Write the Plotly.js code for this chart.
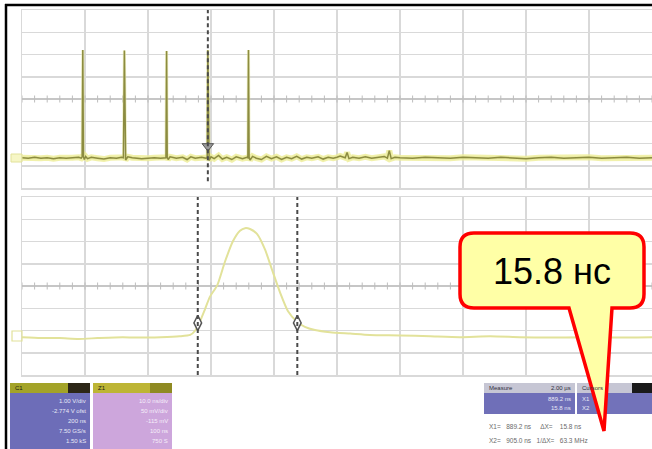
<!DOCTYPE html>
<html>
<head>
<meta charset="utf-8">
<script src="https://cdn.plot.ly/plotly-3.0.1.min.js"></script>
<style>
  html, body { margin: 0; padding: 0; background: #ffffff; }
  #scope { width: 652px; height: 449px; }
</style>
</head>
<body>
<div id="scope"></div>
<script>
// ---- Channel 1, full record (time in ns, 100 ns/div; amplitude in V, 0.5 V/div)
const ch1Time = [0, 10, 20, 30, 40, 50, 60, 70, 80, 90, 94, 95.5, 96.5, 97.5, 99, 101, 104, 110, 120, 130,
  140, 150, 158, 161, 162.5, 163.5, 164.5, 168, 175, 190, 200, 210, 220, 227, 228.5, 229.5, 230.5, 232, 235, 245,
  255, 262, 268, 275, 285, 292, 294, 295, 296, 297, 300, 305, 312, 318, 325, 333, 340, 350, 357, 358.5,
  359.5, 360.5, 362, 366, 372, 380, 388, 396, 404, 412, 420, 428, 436, 444, 452, 460, 470, 478, 486, 494,
  500, 505, 513, 516, 519, 525, 535, 545, 555, 565, 575, 580, 583, 586, 592, 600, 620, 640, 660, 680,
  700, 720, 740, 760, 780, 800, 820, 840, 860, 880, 900, 920, 940, 960, 980, 1000];
const ch1Volts = [-1.32, -1.33, -1.31, -1.33, -1.32, -1.34, -1.32, -1.33, -1.32, -1.31, -1.33, -1.30, 1.10, -1.30, -1.36, -1.29, -1.34, -1.31, -1.33, -1.35,
  -1.32, -1.33, -1.31, -1.32, 1.09, -1.31, -1.37, -1.30, -1.32, -1.34, -1.33, -1.32, -1.33, -1.31, -1.32, 1.08, -1.31, -1.36, -1.30, -1.33,
  -1.31, -1.36, -1.30, -1.33, -1.31, -1.33, -1.32, 1.10, -1.31, -1.38, -1.30, -1.34, -1.27, -1.35, -1.31, -1.36, -1.30, -1.34, -1.31, -1.32,
  1.10, -1.31, -1.37, -1.29, -1.33, -1.36, -1.29, -1.34, -1.30, -1.36, -1.31, -1.34, -1.29, -1.35, -1.31, -1.33, -1.30, -1.35, -1.31, -1.33,
  -1.31, -1.28, -1.32, -1.20, -1.34, -1.31, -1.33, -1.30, -1.33, -1.31, -1.29, -1.33, -1.16, -1.34, -1.31, -1.32, -1.33, -1.31, -1.32, -1.33,
  -1.31, -1.32, -1.33, -1.31, -1.32, -1.34, -1.32, -1.31, -1.33, -1.32, -1.31, -1.33, -1.32, -1.31, -1.33, -1.32];

// ---- Zoom of the captured pulse (time in ns, 10 ns/div; amplitude in mV, 50 mV/div)
const zoomTime = [0, 3, 6, 9, 12, 16, 19, 22, 25, 26.7, 27.5, 28.3, 29.0, 29.8, 31.0, 32.2, 33.5, 34.6, 35.4, 36.2,
  37.3, 38.6, 39.7, 41.0, 42.2, 43.7, 44.9, 46.5, 48.9, 52.1, 55.2, 60, 64.8, 69.5, 74.3, 79, 83.8, 88.6, 93.3, 100];
const zoomMilliVolts = [-115, -117, -117, -119, -117, -115, -116, -115, -113, -110, -100, -78, -54, -25, 2, 54, 101, 124, 130, 128,
  117, 81, 36, -16, -56, -81, -92, -99, -104, -107, -110, -111, -113, -115, -113, -115, -116, -115, -116, -115];

// ---- Cursors and trigger
const triggerTime = 295;          // ns, channel 1 record
const triggerLevel = -1.06;       // V
const cursorTimes = [27.9, 43.7]; // ns, zoom trace
const cursorLevel = -83;          // mV
const pulseWidth = (cursorTimes[1] - cursorTimes[0]).toFixed(1);

// ---- Readout tables
const ch1Header = ['C1', ''];
const ch1Lines = ['1.00 V/div', '-2.774 V ofst', '200 ns', '7.50 GS/s', '1.50 kS'];
const zoomHeader = ['Z1', ''];
const zoomLines = ['10.0 ns/div', '50 mV/div', '-115 mV', '100 ns', '750 S'];
const measureHeader = ['Measure', '2.00 µs'];
const measureLines = ['889.2 ns', '15.8 ns'];
const cursorHeader = ['Cursors', ''];
const cursorLines = ['X1', 'X2'];
const readoutRows = ['X1=   889.2 ns     ΔX=    ' + pulseWidth + ' ns',
                     'X2=   905.0 ns   1/ΔX=   63.3 MHz'];

// ---- Page geometry helpers (pixel -> paper)
const W = 652, H = 449, ML = 22, MR = 0, MT = 10, MB = 74;
const PW = W - ML - MR, PH = H - MT - MB;
const px = x => (x - ML) / PW;
const py = y => (H - MB - y) / PH;
const P = (x, y) => px(x).toFixed(5) + ',' + py(y).toFixed(5);

const gridCol = '#d9d9d9';

function scopeX(range, dtick, anchor) {
  return { domain: [0, 1], range: range, dtick: dtick, tick0: 0, anchor: anchor,
    showgrid: true, gridcolor: gridCol, gridwidth: 1.5, zeroline: false,
    showline: true, mirror: true, linecolor: gridCol, linewidth: 1.5,
    showticklabels: false, ticks: '', fixedrange: true };
}
function scopeY(domain, range, dtick, anchor) {
  return { domain: domain, range: range, dtick: dtick, tick0: 0, anchor: anchor,
    showgrid: true, gridcolor: gridCol, gridwidth: 1.5,
    zeroline: true, zerolinecolor: '#c6c6c6', zerolinewidth: 1.5,
    showline: true, mirror: true, linecolor: gridCol, linewidth: 1.5,
    showticklabels: false, ticks: '', fixedrange: true };
}

// minor graticule ticks along the centre lines (5 per division)
const ch1Minor = [], zoomMinor = [];
for (let k = 0; k <= 50; k++) { ch1Minor.push(k * 20); zoomMinor.push(k * 2); }

// phosphor glow follows the baseline only; the narrow spikes keep a thin halo
const ch1Baseline = ch1Volts.map(v => (v > -1 ? null : v));

const traces = [
  { x: ch1Minor, y: ch1Minor.map(() => 0), xaxis: 'x', yaxis: 'y', mode: 'markers',
    marker: { symbol: 'line-ns', size: 5, line: { color: '#bdbdbd', width: 1 } }, hoverinfo: 'skip' },
  { x: zoomMinor, y: zoomMinor.map(() => 0), xaxis: 'x2', yaxis: 'y2', mode: 'markers',
    marker: { symbol: 'line-ns', size: 5, line: { color: '#bdbdbd', width: 1 } }, hoverinfo: 'skip' },
  { x: ch1Time, y: ch1Baseline, xaxis: 'x', yaxis: 'y', mode: 'lines', connectgaps: true,
    line: { color: 'rgba(238,238,150,0.8)', width: 6 }, hoverinfo: 'skip' },
  { x: ch1Time, y: ch1Volts, xaxis: 'x', yaxis: 'y', mode: 'lines',
    line: { color: 'rgba(226,226,150,0.55)', width: 3 }, hoverinfo: 'skip' },
  { x: ch1Time, y: ch1Volts, xaxis: 'x', yaxis: 'y', mode: 'lines',
    line: { color: '#8c8c40', width: 1.5 }, hoverinfo: 'skip' },
  // zoom trace
  { x: zoomTime, y: zoomMilliVolts, xaxis: 'x2', yaxis: 'y2', mode: 'lines',
    line: { shape: 'spline', smoothing: 0.6, color: '#e2e29a', width: 2 }, hoverinfo: 'skip' },
  // trigger marker
  { x: [triggerTime], y: [triggerLevel], xaxis: 'x', yaxis: 'y', mode: 'markers',
    marker: { symbol: 'triangle-down', size: 10, color: '#9a9a9a', line: { color: '#555555', width: 1 } }, hoverinfo: 'skip' },
  // cursor markers
  { x: cursorTimes, y: cursorTimes.map(() => cursorLevel), xaxis: 'x2', yaxis: 'y2', mode: 'markers',
    marker: { symbol: 'diamond-tall', size: 11, color: '#ffffff', line: { color: '#555555', width: 1.5 } }, hoverinfo: 'skip' }
];

const shapes = [];
// dashed trigger line on channel 1
shapes.push({ type: 'line', xref: 'x', yref: 'y', x0: triggerTime, x1: triggerTime, y0: -1.85, y1: 2,
  line: { color: '#4a4a4a', width: 2, dash: '4px,3px' } });
// dashed cursor lines on zoom
cursorTimes.forEach(t => shapes.push({ type: 'line', xref: 'x2', yref: 'y2', x0: t, x1: t, y0: -200, y1: 200,
  line: { color: '#4a4a4a', width: 2, dash: '4px,3px' } }));

// frame of the screen capture
shapes.push({ type: 'line', xref: 'paper', yref: 'paper', x0: px(5), x1: px(652), y0: py(5), y1: py(5),
  line: { color: '#000000', width: 2.5 } });
shapes.push({ type: 'line', xref: 'paper', yref: 'paper', x0: px(6), x1: px(6), y0: py(4), y1: py(449),
  line: { color: '#000000', width: 2.5 } });

// ground-reference flags at the left edge
shapes.push({ type: 'rect', xref: 'paper', yref: 'paper', x0: px(11), x1: px(22), y0: py(162), y1: py(154),
  line: { color: '#e2e29a', width: 1 }, fillcolor: 'rgba(240,240,160,0.6)' });
shapes.push({ type: 'rect', xref: 'paper', yref: 'paper', x0: px(12), x1: px(22), y0: py(341), y1: py(331),
  line: { color: '#e2e29a', width: 1.2 }, fillcolor: 'rgba(0,0,0,0)' });

// readout boxes
function box(x0, x1, yTop, yHead, yBot, headA, headB, splitX, body) {
  shapes.push({ type: 'rect', xref: 'paper', yref: 'paper', x0: px(x0), x1: px(x1), y0: py(yHead), y1: py(yTop),
    line: { width: 0 }, fillcolor: headA });
  if (splitX !== null) shapes.push({ type: 'rect', xref: 'paper', yref: 'paper', x0: px(splitX), x1: px(x1),
    y0: py(yHead), y1: py(yTop), line: { width: 0 }, fillcolor: headB });
  shapes.push({ type: 'rect', xref: 'paper', yref: 'paper', x0: px(x0), x1: px(x1), y0: py(yBot), y1: py(yHead),
    line: { width: 0 }, fillcolor: body });
}
box(10, 90, 383, 393, 449, '#a3a328', '#2c2616', 68, '#6d6db8');
box(93, 172, 383, 393, 449, '#bdb535', '#8f8a22', 150, '#cda6dc');
box(484, 575, 383, 393, 414, '#c6c6d4', '#c6c6d4', null, '#6f6fb8');
box(577, 652, 383, 393, 414, '#c6c6d4', '#1a1a1a', 632, '#7272ba');

// callout with the measured width
const r = 14, bx0 = 460, bx1 = 644, by0 = 233, by1 = 308;
const calloutPath = 'M' + P(bx0 + r, by0) + ' L' + P(bx1 - r, by0) + ' Q' + P(bx1, by0) + ' ' + P(bx1, by0 + r) +
  ' L' + P(bx1, by1 - r) + ' Q' + P(bx1, by1) + ' ' + P(bx1 - r, by1) +
  ' L' + P(612, by1) + ' L' + P(604, 431) + ' L' + P(569, by1) +
  ' L' + P(bx0 + r, by1) + ' Q' + P(bx0, by1) + ' ' + P(bx0, by1 - r) +
  ' L' + P(bx0, by0 + r) + ' Q' + P(bx0, by0) + ' ' + P(bx0 + r, by0) + ' Z';

const annotations = [];
function txt(x, y, s, size, color, anchor) {
  annotations.push({ xref: 'paper', yref: 'paper', x: px(x), y: py(y), text: s, showarrow: false,
    xanchor: anchor, yanchor: 'middle', font: { size: size, color: color } });
}
txt(13, 388, ch1Header[0], 6, '#202010', 'left');
ch1Lines.forEach((s, i) => txt(88, 401 + i * 10, s, 6, '#e8e8f6', 'right'));
txt(96, 388, zoomHeader[0], 6, '#202010', 'left');
zoomLines.forEach((s, i) => txt(170, 401 + i * 10, s, 6, '#f6eefa', 'right'));
txt(487, 388, measureHeader[0], 6, '#303040', 'left');
txt(573, 388, measureHeader[1], 6, '#303040', 'right');
measureLines.forEach((s, i) => txt(573, 399 + i * 9, s, 6, '#e8e8f6', 'right'));
txt(580, 388, cursorHeader[0], 6, '#303040', 'left');
cursorLines.forEach((s, i) => txt(580, 399 + i * 9, s, 6, '#e8e8f6', 'left'));
readoutRows.forEach((s, i) => txt(487, 426 + i * 14, s, 6.5, '#6a6a6a', 'left'));

shapes.push({ type: 'path', xref: 'paper', yref: 'paper', path: calloutPath,
  line: { color: '#ff0000', width: 3.5 }, fillcolor: '#ffffa6', layer: 'above' });
annotations.push({ xref: 'paper', yref: 'paper', x: px(552), y: py(271), text: pulseWidth + ' нс',
  showarrow: false, xanchor: 'center', yanchor: 'middle',
  font: { family: 'Liberation Sans, Arial, sans-serif', size: 36, color: '#000000' } });

const layout = {
  width: W, height: H,
  margin: { l: ML, r: MR, t: MT, b: MB, pad: 0 },
  paper_bgcolor: '#ffffff', plot_bgcolor: '#ffffff',
  showlegend: false,
  font: { family: 'Liberation Sans, Arial, sans-serif' },
  xaxis: scopeX([0, 1000], 100, 'y'),
  yaxis: scopeY([py(188), 1], [-2, 2], 0.5, 'x'),
  xaxis2: scopeX([0, 100], 10, 'y2'),
  yaxis2: scopeY([0, py(197)], [-200, 200], 50, 'x2'),
  shapes: shapes,
  annotations: annotations
};

Plotly.newPlot('scope', traces, layout, { staticPlot: true, displayModeBar: false });
</script>
</body>
</html>
